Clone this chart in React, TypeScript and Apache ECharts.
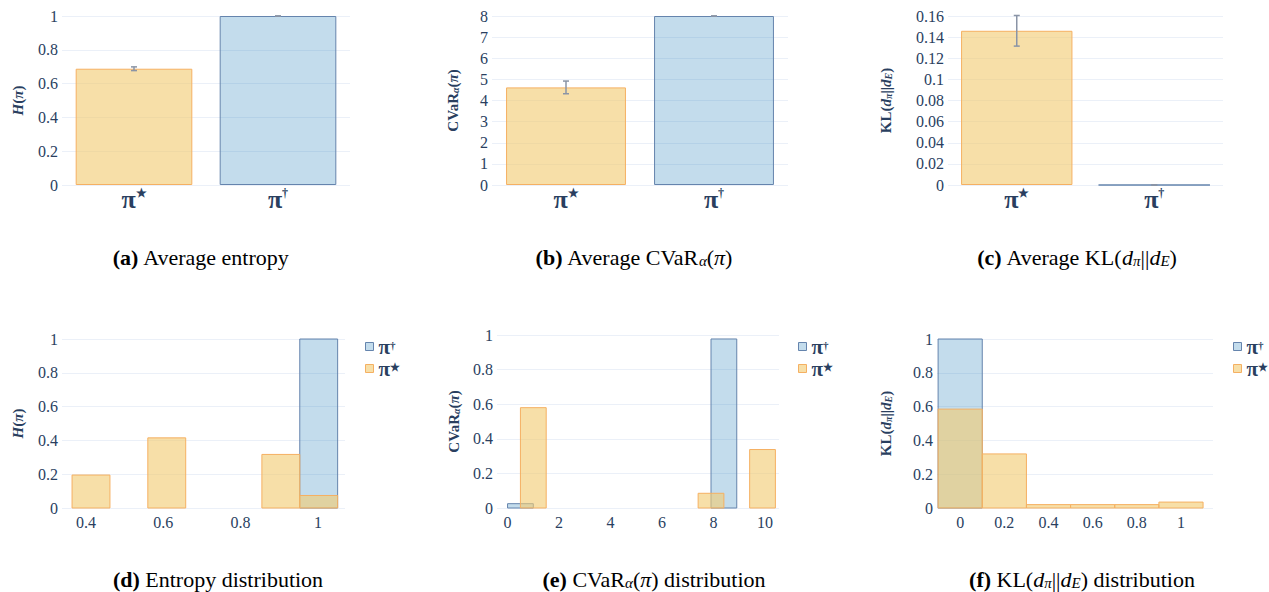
import React, { useEffect, useRef } from 'react';
import * as echarts from 'echarts';

// ---------- data ----------
const policyCategories = ['π★', 'π†'];
const entropyMean = [0.688, 1.0];
const entropyErr = [0.011, 0.0];
const cvarMean = [4.62, 8.0];
const cvarErr = [0.3, 0.0];
const klMean = [0.146, 0.0];
const klErr = [0.0145, 0.0];

const entropyStarBins = [0.364, 0.56, 0.855, 0.953];
const entropyStarFreq = [0.195, 0.415, 0.317, 0.074];
const entropyDaggerBins = [0.953];
const entropyDaggerFreq = [1.0];
const entropyBinWidth = 0.098;
const entropyTicks = [0.4, 0.6, 0.8, 1];

const cvarStarBins = [0.5, 7.4, 9.4];
const cvarStarFreq = [0.58, 0.085, 0.338];
const cvarDaggerBins = [0, 7.9];
const cvarDaggerFreq = [0.025, 0.977];
const cvarBinWidth = 1.0;
const cvarTicks = [0, 2, 4, 6, 8, 10];

const klStarBins = [-0.1, 0.1, 0.3, 0.5, 0.7, 0.9];
const klStarFreq = [0.585, 0.32, 0.02, 0.02, 0.02, 0.035];
const klDaggerBins = [-0.1];
const klDaggerFreq = [1.0];
const klBinWidth = 0.2;
const klTicks = [0, 0.2, 0.4, 0.6, 0.8, 1];

// ---------- styles ----------
const SERIF = "'Liberation Serif', 'Times New Roman', serif";
const NAVY = '#2a3f5f';
const GRID = '#ebf0f8';
const ORANGE_FILL = 'rgba(242,203,115,0.62)';
const ORANGE_LINE = '#f5b062';
const BLUE_FILL = 'rgba(41,128,185,0.28)';
const BLUE_LINE = '#6584ad';
const ERR = '#8a94a6';
const CAP = 22;

const piLabel = (name: string) => (name === 'π†' ? '{p|π}{s|†}' : '{p|π}{s|★}');

const nameRich = {
  n: { fontFamily: SERIF, fontWeight: 'bold', fontSize: 15, color: NAVY },
  i: { fontFamily: SERIF, fontWeight: 'bold', fontStyle: 'italic', fontSize: 15, color: NAVY },
  sub: { fontFamily: SERIF, fontWeight: 'bold', fontStyle: 'italic', fontSize: 10, color: NAVY, verticalAlign: 'bottom' },
};

function histData(bins: number[], freq: number[], w: number) {
  return bins.map((b, i) => [b, b + w, freq[i]]);
}

function histRender(fill: string, stroke: string) {
  return (params: any, api: any) => {
    const p0 = api.coord([api.value(0), api.value(2)]);
    const p1 = api.coord([api.value(1), 0]);
    return {
      type: 'rect',
      shape: { x: p0[0], y: p0[1], width: p1[0] - p0[0], height: p1[1] - p0[1] },
      style: { fill, stroke, lineWidth: 1 },
    };
  };
}

const errRender = (params: any, api: any) => {
  const x = api.value(0);
  const m = api.value(1);
  const e = api.value(2);
  const top = api.coord([x, m + e]);
  const bot = api.coord([x, m - e]);
  const hw = 3;
  const st = { stroke: ERR, lineWidth: 1.5 };
  return {
    type: 'group',
    children: [
      { type: 'line', shape: { x1: top[0], y1: top[1], x2: bot[0], y2: bot[1] }, style: st },
      { type: 'line', shape: { x1: top[0] - hw, y1: top[1], x2: top[0] + hw, y2: top[1] }, style: st },
      { type: 'line', shape: { x1: bot[0] - hw, y1: bot[1], x2: bot[0] + hw, y2: bot[1] }, style: st },
    ],
  };
};

const tickLabel = { fontFamily: SERIF, fontSize: 16, color: NAVY };

function yAxisFor(gridIndex: number, max: number, interval: number, name: string, nameGap: number) {
  return {
    type: 'value',
    gridIndex,
    min: 0,
    max,
    interval,
    axisLine: { show: false },
    axisTick: { show: false },
    splitLine: { show: true, lineStyle: { color: GRID, width: 1 } },
    axisLabel: { ...tickLabel, margin: 4 },
    name,
    nameLocation: 'middle',
    nameRotate: 90,
    nameGap,
    nameTextStyle: { fontFamily: SERIF, rich: nameRich },
  };
}

function catAxis(gridIndex: number) {
  return {
    type: 'category',
    gridIndex,
    data: policyCategories,
    axisLine: { show: false },
    axisTick: { show: false },
    splitLine: { show: false },
    axisLabel: {
      margin: 2,
      fontFamily: SERIF,
      formatter: (v: string) => piLabel(v),
      rich: {
        p: { fontFamily: SERIF, fontWeight: 'bold', fontSize: 26, color: NAVY, lineHeight: 24 },
        s: { fontFamily: SERIF, fontWeight: 'bold', fontSize: 12, color: NAVY, verticalAlign: 'top', lineHeight: 12 },
      },
    },
  };
}

function valXAxis(gridIndex: number, min: number, max: number, ticks: number[]) {
  return {
    type: 'value',
    gridIndex,
    min,
    max,
    axisLine: { show: false },
    axisTick: { show: false },
    splitLine: { show: false },
    axisLabel: { ...tickLabel, margin: 6, customValues: ticks },
  };
}

function meanSeries(idx: number, mean: number[], err: number[]) {
  return [
    {
      type: 'bar',
      name: 'mean' + idx,
      xAxisIndex: idx,
      yAxisIndex: idx,
      barCategoryGap: '19%',
      data: mean.map((v, i) => ({
        value: v,
        itemStyle: {
          color: i === 0 ? ORANGE_FILL : BLUE_FILL,
          borderColor: i === 0 ? ORANGE_LINE : BLUE_LINE,
          borderWidth: 1,
        },
      })),
    },
    {
      type: 'custom',
      name: 'err' + idx,
      xAxisIndex: idx,
      yAxisIndex: idx,
      renderItem: errRender,
      encode: { x: 0, y: 1 },
      data: mean.map((v, i) => [i, v, err[i]]),
      z: 5,
    },
  ];
}

function histSeries(idx: number, dBins: number[], dFreq: number[], sBins: number[], sFreq: number[], w: number) {
  return [
    {
      type: 'custom',
      name: 'π†',
      xAxisIndex: idx,
      yAxisIndex: idx,
      renderItem: histRender(BLUE_FILL, BLUE_LINE),
      encode: { x: [0, 1], y: 2 },
      itemStyle: { color: BLUE_FILL, borderColor: BLUE_LINE, borderWidth: 1 },
      data: histData(dBins, dFreq, w),
    },
    {
      type: 'custom',
      name: 'π★',
      xAxisIndex: idx,
      yAxisIndex: idx,
      renderItem: histRender(ORANGE_FILL, ORANGE_LINE),
      encode: { x: [0, 1], y: 2 },
      itemStyle: { color: ORANGE_FILL, borderColor: ORANGE_LINE, borderWidth: 1 },
      data: histData(sBins, sFreq, w),
    },
  ];
}

function legendAt(left: number, top: number) {
  return {
    orient: 'vertical',
    left,
    top,
    itemWidth: 8,
    itemHeight: 8,
    itemGap: 1,
    selectedMode: false,
    icon: 'rect',
    padding: 0,
    data: [
      { name: 'π†', icon: 'rect', itemStyle: { color: BLUE_FILL, borderColor: BLUE_LINE, borderWidth: 1 } },
      { name: 'π★', icon: 'rect', itemStyle: { color: ORANGE_FILL, borderColor: ORANGE_LINE, borderWidth: 1 } },
    ],
    formatter: (name: string) => piLabel(name),
    textStyle: {
      fontFamily: SERIF,
      rich: {
        p: { fontFamily: SERIF, fontWeight: 'bold', fontSize: 21, color: NAVY, lineHeight: 14 },
        s: { fontFamily: SERIF, fontWeight: 'bold', fontSize: 11, color: NAVY, verticalAlign: 'top', lineHeight: 9 },
      },
    },
  };
}

const capRich = {
  b: { fontFamily: SERIF, fontWeight: 'bold', fontSize: CAP, fill: '#000', color: '#000' },
  n: { fontFamily: SERIF, fontSize: CAP, fill: '#000', color: '#000' },
  i: { fontFamily: SERIF, fontStyle: 'italic', fontSize: CAP, fill: '#000', color: '#000' },
  sub: { fontFamily: SERIF, fontStyle: 'italic', fontSize: 15, fill: '#000', color: '#000', verticalAlign: 'bottom' },
};

function caption(x: number, y: number, text: string) {
  return {
    type: 'text',
    x,
    y,
    style: {
      text,
      rich: capRich,
      fontFamily: SERIF,
      fontSize: CAP,
      fill: '#000',
      align: 'center',
      verticalAlign: 'middle',
    },
  };
}

export default function App() {
  const ref = useRef<HTMLDivElement>(null);
  useEffect(() => {
    if (!ref.current) return;
    const chart = echarts.init(ref.current, undefined, { renderer: 'svg' });
    const option: any = {
      animation: false,
      backgroundColor: '#fff',
      textStyle: { fontFamily: SERIF },
      grid: [
        { left: 62, top: 16, width: 288, height: 169, outerBoundsMode: 'none' },
        { left: 492, top: 16, width: 296, height: 169, outerBoundsMode: 'none' },
        { left: 948, top: 16, width: 275, height: 169, outerBoundsMode: 'none' },
        { left: 62, top: 339, width: 283, height: 169, outerBoundsMode: 'none' },
        { left: 497, top: 335, width: 282, height: 173, outerBoundsMode: 'none' },
        { left: 937, top: 339, width: 276, height: 169, outerBoundsMode: 'none' },
      ],
      xAxis: [
        catAxis(0),
        catAxis(1),
        catAxis(2),
        valXAxis(3, 0.338, 1.07, entropyTicks),
        valXAxis(4, -0.41, 10.54, cvarTicks),
        valXAxis(5, -0.105, 1.145, klTicks),
      ],
      yAxis: [
        yAxisFor(0, 1, 0.2, '{i|H}{n|(}{i|π}{n|)}', 37),
        yAxisFor(1, 8, 1, '{n|CVaR}{sub|α}{n|(}{i|π}{n|)}', 32),
        yAxisFor(2, 0.16, 0.02, '{n|KL(}{i|d}{sub|π}{n|||}{i|d}{sub|E}{n|)}', 55),
        yAxisFor(3, 1, 0.2, '{i|H}{n|(}{i|π}{n|)}', 37),
        yAxisFor(4, 1, 0.2, '{n|CVaR}{sub|α}{n|(}{i|π}{n|)}', 36),
        yAxisFor(5, 1, 0.2, '{n|KL(}{i|d}{sub|π}{n|||}{i|d}{sub|E}{n|)}', 44),
      ],
      legend: [legendAt(365, 336), legendAt(798, 336), legendAt(1233, 336)],
      series: [
        ...meanSeries(0, entropyMean, entropyErr),
        ...meanSeries(1, cvarMean, cvarErr),
        ...meanSeries(2, klMean, klErr),
        ...histSeries(3, entropyDaggerBins, entropyDaggerFreq, entropyStarBins, entropyStarFreq, entropyBinWidth),
        ...histSeries(4, cvarDaggerBins, cvarDaggerFreq, cvarStarBins, cvarStarFreq, cvarBinWidth),
        ...histSeries(5, klDaggerBins, klDaggerFreq, klStarBins, klStarFreq, klBinWidth),
      ],
      graphic: [
        caption(201, 257, '{b|(a)}{n| Average entropy}'),
        caption(634, 257, '{b|(b)}{n| Average CVaR}{sub|α}{n|(}{i|π}{n|)}'),
        caption(1077, 257, '{b|(c)}{n| Average KL(}{i|d}{sub|π}{n|||}{i|d}{sub|E}{n|)}'),
        caption(218, 579, '{b|(d)}{n| Entropy distribution}'),
        caption(654, 579, '{b|(e)}{n| CVaR}{sub|α}{n|(}{i|π}{n|) distribution}'),
        caption(1082, 579, '{b|(f)}{n| KL(}{i|d}{sub|π}{n|||}{i|d}{sub|E}{n|) distribution}'),
      ],
    };
    chart.setOption(option);
    return () => chart.dispose();
  }, []);
  return (
    <div
      ref={ref}
      style={{ position: 'fixed', left: 0, top: 0, width: 1269, height: 592, background: '#fff' }}
    />
  );
}
